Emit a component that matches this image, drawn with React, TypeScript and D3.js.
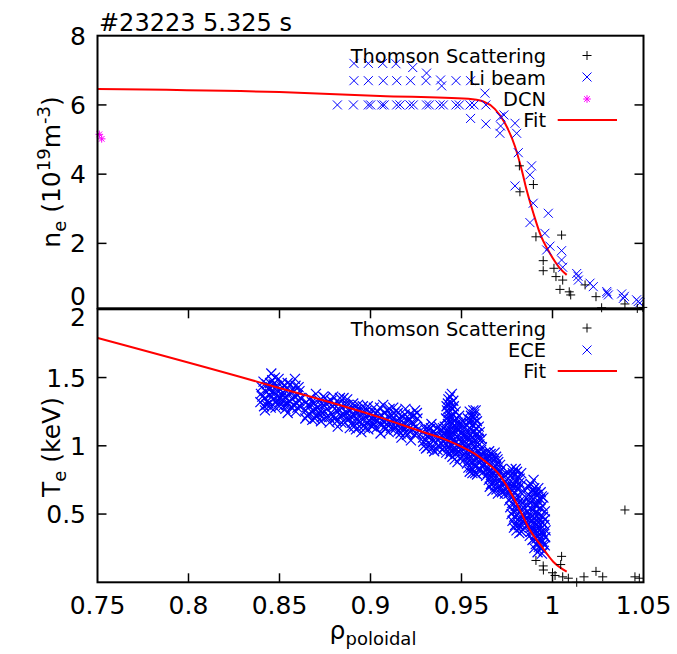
import React from 'react';
import * as d3 from 'd3';

const W = 677;
const H = 654;

const xTicks = [0.75, 0.8, 0.85, 0.9, 0.95, 1, 1.05];
const neTicks = [0, 2, 4, 6, 8];
const teTicks = [0.5, 1, 1.5, 2];

const title = '#23223 5.325 s';

// Top panel: electron density (1e19 m^-3)
const thomsonNe: [number, number][] = [
  [0.9818, 4.24], [0.9895, 3.70], [0.9821, 3.49], [0.9909, 2.19], [1.0050, 2.24],
  [0.9949, 1.50], [0.9949, 1.21], [1.0008, 1.28], [1.0019, 1.04], [1.0056, 0.94],
  [1.0041, 0.67], [1.0100, 0.51], [1.0092, 0.60], [1.0179, 0.80], [1.0239, 0.46],
  [1.0270, 0.14], [1.0398, 0.25], [1.0466, 0.12], [1.0496, 0.15],
];

const liBeamNe: [number, number][] = [
  [0.8909, 7.20], [0.8988, 7.20], [0.9067, 7.20], [0.9140, 7.19], [0.9232, 7.08], [0.9308, 6.92],
  [0.8909, 6.70], [0.8988, 6.70], [0.9070, 6.70], [0.9144, 6.70], [0.9220, 6.70], [0.9305, 6.70],
  [0.9385, 6.72], [0.9391, 6.55], [0.9470, 6.70], [0.9550, 6.70],
  [0.8818, 6.00], [0.8906, 6.00], [0.8988, 6.00], [0.9001, 6.00], [0.9062, 6.00], [0.9075, 6.00],
  [0.9144, 6.00], [0.9162, 6.00], [0.9217, 6.00], [0.9235, 6.00], [0.9308, 6.00], [0.9323, 6.00],
  [0.9382, 6.00], [0.9400, 6.00], [0.9470, 6.00], [0.9488, 6.00], [0.9547, 6.00], [0.9569, 6.00],
  [0.9634, 6.00],
  [0.9629, 6.34], [0.9550, 5.61], [0.9634, 5.45], [0.9715, 5.66], [0.9733, 5.71], [0.9715, 5.39],
  [0.9711, 5.18], [0.9803, 5.18], [0.9794, 5.47], [0.9812, 4.62], [0.9885, 4.24], [0.9876, 3.98],
  [0.9794, 3.66], [0.9894, 3.16], [0.9977, 2.87], [0.9876, 2.60], [0.9958, 2.29], [0.9986, 1.92],
  [0.9968, 1.81], [1.0050, 1.79], [1.0050, 1.52], [1.0056, 1.31], [1.0133, 1.13], [1.0142, 0.94],
  [1.0140, 1.05], [1.0206, 0.85], [1.0224, 0.75], [1.0298, 0.61], [1.0307, 0.51], [1.0300, 0.56],
  [1.0380, 0.54], [1.0389, 0.41], [1.0395, 0.47], [1.0462, 0.37], [1.0471, 0.32], [1.0480, 0.28],
];

const dcnNe: [number, number][] = [
  [0.7510, 5.15], [0.7523, 5.02],
];

const neFitRho = [0.75, 0.85, 0.9052, 0.9537, 0.962, 0.9684, 0.9739, 0.9794, 0.9831, 0.9858, 0.9895, 0.9931, 0.9986, 1.0041, 1.0078];
const neFitVal = [6.46, 6.37, 6.26, 6.18, 6.10, 5.88, 5.47, 4.80, 4.12, 3.54, 2.87, 2.29, 1.71, 1.28, 1.09];

// Bottom panel: electron temperature (keV)
const thomsonTe: [number, number][] = [
  [0.9909, 0.16], [0.9949, 0.12], [0.9950, 0.09], [1.0050, 0.19], [1.0045, 0.13],
  [1.0000, 0.07], [1.0014, 0.05], [1.0056, 0.04], [1.0087, 0.03], [1.0133, 0.00],
  [1.0173, 0.04], [1.0239, 0.08], [1.0276, 0.04], [1.0398, 0.53], [1.0453, 0.04], [1.0477, 0.03],
];

const eceTe: [number, number][] = [
  // 0.839 - 0.862
  [0.8395, 1.32], [0.8398, 1.38], [0.8402, 1.43], [0.8415, 1.29], [0.8420, 1.35], [0.8425, 1.40],
  [0.8430, 1.45], [0.8440, 1.31], [0.8445, 1.37], [0.8450, 1.42], [0.8455, 1.53], [0.8460, 1.48],
  [0.8465, 1.34], [0.8470, 1.39], [0.8478, 1.28], [0.8485, 1.44], [0.8490, 1.36], [0.8495, 1.49],
  [0.8500, 1.32], [0.8505, 1.41], [0.8512, 1.46], [0.8518, 1.37], [0.8525, 1.30], [0.8420, 1.26],
  [0.8405, 1.36], [0.8412, 1.47], [0.8435, 1.33], [0.8438, 1.42], [0.8452, 1.28], [0.8458, 1.39],
  [0.8468, 1.45], [0.8475, 1.50], [0.8482, 1.33], [0.8488, 1.40], [0.8498, 1.29], [0.8508, 1.35],
  [0.8515, 1.43], [0.8522, 1.39], [0.8448, 1.46], [0.8428, 1.30],
  [0.8532, 1.27], [0.8535, 1.35], [0.8540, 1.42], [0.8548, 1.31], [0.8552, 1.38], [0.8560, 1.45],
  [0.8565, 1.28], [0.8570, 1.34], [0.8578, 1.40], [0.8585, 1.49], [0.8590, 1.25], [0.8595, 1.31],
  [0.8600, 1.37], [0.8605, 1.43], [0.8612, 1.29], [0.8614, 1.35],
  [0.8538, 1.30], [0.8545, 1.46], [0.8555, 1.33], [0.8562, 1.40], [0.8575, 1.30], [0.8582, 1.36],
  [0.8588, 1.44], [0.8598, 1.28], [0.8608, 1.33], [0.8610, 1.40], [0.8545, 1.24],
  // 0.864 - 0.926
  [0.8642, 1.20], [0.8645, 1.26], [0.8648, 1.32], [0.8660, 1.23], [0.8665, 1.29], [0.8670, 1.35],
  [0.8680, 1.19], [0.8685, 1.26], [0.8690, 1.31], [0.8700, 1.38], [0.8705, 1.22], [0.8712, 1.28],
  [0.8720, 1.33], [0.8728, 1.18], [0.8735, 1.24], [0.8742, 1.30], [0.8750, 1.35], [0.8758, 1.21],
  [0.8762, 1.27],
  [0.8652, 1.22], [0.8655, 1.30], [0.8675, 1.25], [0.8678, 1.32], [0.8695, 1.20], [0.8698, 1.27],
  [0.8715, 1.24], [0.8725, 1.30], [0.8732, 1.21], [0.8740, 1.36], [0.8748, 1.25], [0.8755, 1.31],
  [0.8770, 1.32], [0.8775, 1.17], [0.8782, 1.24], [0.8790, 1.29], [0.8795, 1.36], [0.8805, 1.20],
  [0.8812, 1.26], [0.8820, 1.14], [0.8828, 1.31], [0.8835, 1.22], [0.8845, 1.28], [0.8852, 1.35],
  [0.8860, 1.17], [0.8868, 1.24], [0.8875, 1.30], [0.8882, 1.20], [0.8886, 1.13],
  [0.8772, 1.21], [0.8785, 1.33], [0.8798, 1.22], [0.8802, 1.30], [0.8815, 1.18], [0.8825, 1.27],
  [0.8832, 1.35], [0.8840, 1.17], [0.8848, 1.23], [0.8858, 1.30], [0.8865, 1.20], [0.8872, 1.34],
  [0.8880, 1.26],
  [0.8892, 1.26], [0.8898, 1.17], [0.8905, 1.31], [0.8912, 1.22], [0.8920, 1.12], [0.8928, 1.27],
  [0.8935, 1.18], [0.8942, 1.23], [0.8950, 1.10], [0.8958, 1.29], [0.8965, 1.15], [0.8972, 1.21],
  [0.8980, 1.26], [0.8988, 1.12], [0.8995, 1.18], [0.9002, 1.24], [0.9010, 1.14],
  [0.8895, 1.21], [0.8902, 1.28], [0.8910, 1.14], [0.8918, 1.25], [0.8925, 1.19], [0.8932, 1.30],
  [0.8940, 1.14], [0.8948, 1.26], [0.8955, 1.19], [0.8962, 1.24], [0.8970, 1.13], [0.8978, 1.17],
  [0.8985, 1.29], [0.8992, 1.22], [0.9000, 1.15], [0.9008, 1.20],
  [0.9018, 1.28], [0.9025, 1.20], [0.9032, 1.13], [0.9040, 1.25], [0.9048, 1.17], [0.9055, 1.09],
  [0.9062, 1.22], [0.9070, 1.30], [0.9078, 1.14], [0.9085, 1.19], [0.9092, 1.26], [0.9100, 1.10],
  [0.9108, 1.16], [0.9115, 1.22], [0.9125, 1.28], [0.9132, 1.12], [0.9140, 1.18],
  [0.9020, 1.16], [0.9028, 1.24], [0.9035, 1.18], [0.9045, 1.21], [0.9052, 1.28], [0.9060, 1.15],
  [0.9068, 1.18], [0.9075, 1.24], [0.9082, 1.12], [0.9090, 1.16], [0.9098, 1.22], [0.9105, 1.27],
  [0.9112, 1.13], [0.9120, 1.19], [0.9130, 1.24], [0.9138, 1.14], [0.9142, 1.26],
  [0.9150, 1.24], [0.9155, 1.11], [0.9162, 1.17], [0.9170, 1.06], [0.9178, 1.21], [0.9185, 1.13],
  [0.9192, 1.27], [0.9200, 1.08], [0.9208, 1.18], [0.9215, 1.23], [0.9222, 1.04], [0.9230, 1.12],
  [0.9238, 1.16], [0.9245, 1.26], [0.9252, 1.09], [0.9258, 1.20],
  [0.9148, 1.15], [0.9158, 1.20], [0.9165, 1.09], [0.9172, 1.14], [0.9180, 1.17], [0.9188, 1.23],
  [0.9195, 1.10], [0.9205, 1.14], [0.9212, 1.20], [0.9218, 1.10], [0.9225, 1.17], [0.9235, 1.22],
  [0.9242, 1.08], [0.9250, 1.14], [0.9255, 1.24], [0.9260, 1.12],
  // 0.928 - 0.942
  [0.9285, 1.10], [0.9290, 1.03], [0.9298, 1.14], [0.9305, 0.98], [0.9312, 1.07], [0.9320, 1.12],
  [0.9328, 1.01], [0.9335, 1.16], [0.9342, 1.05], [0.9350, 0.96], [0.9358, 1.09], [0.9365, 1.13],
  [0.9372, 1.00], [0.9380, 1.06], [0.9388, 1.11], [0.9395, 0.97], [0.9402, 1.03], [0.9410, 1.08],
  [0.9416, 0.95],
  [0.9288, 1.06], [0.9295, 1.00], [0.9302, 1.12], [0.9308, 1.04], [0.9315, 0.99], [0.9325, 1.08],
  [0.9332, 1.13], [0.9338, 0.98], [0.9345, 1.10], [0.9355, 1.02], [0.9362, 1.06], [0.9368, 0.97],
  [0.9375, 1.14], [0.9385, 1.02], [0.9392, 1.07], [0.9398, 1.13], [0.9405, 0.99], [0.9412, 1.05],
  [0.9418, 1.11],
  // spike near 0.945
  [0.9437, 1.36], [0.9442, 1.31], [0.9450, 1.27], [0.9430, 1.24], [0.9445, 1.21], [0.9460, 1.18],
  [0.9425, 1.16], [0.9438, 1.12], [0.9452, 1.14], [0.9468, 1.10], [0.9420, 1.08], [0.9433, 1.04],
  [0.9448, 1.06], [0.9462, 1.02], [0.9475, 1.07], [0.9428, 0.99], [0.9442, 0.96], [0.9458, 0.98],
  [0.9470, 0.94], [0.9485, 1.00], [0.9462, 0.90], [0.9478, 0.88], [0.9415, 1.20], [0.9455, 1.33],
  [0.9408, 1.14], [0.9412, 1.02], [0.9420, 1.26], [0.9425, 1.31], [0.9432, 1.19], [0.9440, 1.09],
  [0.9448, 1.17], [0.9455, 1.23], [0.9458, 1.04], [0.9465, 1.14], [0.9472, 1.20], [0.9480, 1.12],
  [0.9488, 1.05], [0.9492, 1.16], [0.9495, 0.97], [0.9500, 1.09], [0.9505, 1.02], [0.9510, 0.93],
  [0.9490, 0.91], [0.9450, 0.92], [0.9435, 0.94], [0.9444, 1.01],
  [0.9418, 1.29], [0.9428, 1.34], [0.9447, 1.38], [0.9458, 1.29], [0.9468, 1.25], [0.9478, 1.17],
  [0.9487, 1.22], [0.9497, 1.13], [0.9505, 1.18], [0.9512, 1.07], [0.9422, 1.12], [0.9430, 1.21],
  [0.9440, 1.28], [0.9452, 1.10], [0.9470, 1.03], [0.9483, 0.96], [0.9498, 1.03], [0.9436, 1.07],
  [0.9465, 0.96], [0.9478, 1.13],
  // 0.952 - 0.962
  [0.9565, 1.26], [0.9552, 1.22], [0.9575, 1.20], [0.9540, 1.17], [0.9560, 1.15], [0.9580, 1.13],
  [0.9530, 1.11], [0.9548, 1.08], [0.9568, 1.10], [0.9590, 1.06], [0.9520, 1.03], [0.9538, 1.00],
  [0.9558, 1.02], [0.9578, 0.98], [0.9598, 1.01], [0.9525, 0.95], [0.9545, 0.92], [0.9565, 0.94],
  [0.9585, 0.90], [0.9605, 0.93], [0.9530, 0.87], [0.9552, 0.84], [0.9572, 0.86], [0.9595, 0.82],
  [0.9615, 0.85], [0.9560, 0.80],
  [0.9545, 1.25], [0.9570, 1.23], [0.9535, 1.20], [0.9518, 1.14], [0.9528, 1.07], [0.9550, 1.12],
  [0.9572, 1.17], [0.9585, 1.09], [0.9595, 1.14], [0.9515, 0.98], [0.9535, 0.97], [0.9555, 0.97],
  [0.9575, 1.04], [0.9590, 0.96], [0.9608, 0.97], [0.9618, 0.90], [0.9540, 0.89], [0.9560, 0.88],
  [0.9580, 0.85], [0.9600, 0.88], [0.9620, 0.81], [0.9545, 0.81], [0.9585, 0.79], [0.9518, 0.90],
  [0.9548, 1.19], [0.9562, 1.21], [0.9578, 1.26], [0.9585, 1.18], [0.9600, 1.10], [0.9610, 1.05],
  [0.9522, 1.08], [0.9532, 1.15], [0.9542, 1.04], [0.9555, 1.06], [0.9568, 1.05], [0.9580, 1.01],
  [0.9595, 1.05], [0.9612, 0.99], [0.9528, 0.92], [0.9548, 0.96], [0.9568, 0.90], [0.9592, 0.92],
  [0.9610, 0.94], [0.9622, 0.87], [0.9538, 0.84], [0.9562, 0.83], [0.9575, 0.80], [0.9602, 0.83],
  // 0.963 - 0.975
  [0.9630, 0.95], [0.9645, 0.91], [0.9660, 0.94], [0.9675, 0.89], [0.9690, 0.92], [0.9628, 0.86],
  [0.9642, 0.83], [0.9658, 0.87], [0.9672, 0.81], [0.9688, 0.85], [0.9702, 0.88], [0.9635, 0.78],
  [0.9650, 0.75], [0.9665, 0.79], [0.9680, 0.73], [0.9695, 0.77], [0.9710, 0.81], [0.9725, 0.76],
  [0.9655, 0.70], [0.9670, 0.67], [0.9685, 0.71], [0.9700, 0.65], [0.9715, 0.69], [0.9730, 0.72],
  [0.9745, 0.68],
  [0.9638, 0.92], [0.9652, 0.96], [0.9668, 0.91], [0.9682, 0.95], [0.9698, 0.90], [0.9712, 0.86],
  [0.9640, 0.88], [0.9655, 0.82], [0.9678, 0.84], [0.9695, 0.82], [0.9720, 0.83], [0.9735, 0.79],
  [0.9645, 0.80], [0.9660, 0.77], [0.9675, 0.76], [0.9705, 0.74], [0.9718, 0.77], [0.9740, 0.74],
  [0.9750, 0.70], [0.9662, 0.72], [0.9692, 0.68], [0.9708, 0.71], [0.9722, 0.66], [0.9738, 0.65],
  // 0.976 - 0.986
  [0.9760, 0.80], [0.9775, 0.83], [0.9790, 0.78], [0.9805, 0.81], [0.9820, 0.76], [0.9765, 0.73],
  [0.9780, 0.70], [0.9795, 0.74], [0.9810, 0.68], [0.9825, 0.71], [0.9758, 0.65], [0.9772, 0.62],
  [0.9788, 0.66], [0.9802, 0.60], [0.9818, 0.63], [0.9832, 0.58], [0.9768, 0.55], [0.9784, 0.52],
  [0.9798, 0.56], [0.9812, 0.50], [0.9828, 0.53], [0.9842, 0.48], [0.9780, 0.45], [0.9795, 0.42],
  [0.9810, 0.46], [0.9825, 0.40], [0.9838, 0.44], [0.9818, 0.36],
  [0.9768, 0.78], [0.9782, 0.80], [0.9798, 0.83], [0.9812, 0.77], [0.9828, 0.80], [0.9772, 0.68],
  [0.9788, 0.72], [0.9802, 0.70], [0.9818, 0.73], [0.9835, 0.67], [0.9762, 0.60], [0.9778, 0.58],
  [0.9795, 0.62], [0.9808, 0.57], [0.9825, 0.60], [0.9840, 0.55], [0.9775, 0.50], [0.9790, 0.48],
  [0.9805, 0.53], [0.9820, 0.47], [0.9835, 0.50], [0.9848, 0.45], [0.9788, 0.40], [0.9802, 0.38],
  [0.9815, 0.42], [0.9830, 0.37], [0.9845, 0.40], [0.9855, 0.47], [0.9860, 0.42],
  // 0.986 - 0.996
  [0.9896, 0.75], [0.9941, 0.63], [0.9870, 0.70], [0.9885, 0.66], [0.9900, 0.69], [0.9915, 0.64],
  [0.9862, 0.61], [0.9878, 0.58], [0.9893, 0.61], [0.9908, 0.56], [0.9925, 0.59], [0.9860, 0.52],
  [0.9875, 0.49], [0.9890, 0.53], [0.9905, 0.47], [0.9920, 0.50], [0.9935, 0.54], [0.9948, 0.48],
  [0.9868, 0.43], [0.9882, 0.40], [0.9898, 0.44], [0.9912, 0.38], [0.9928, 0.41], [0.9942, 0.37],
  [0.9955, 0.42], [0.9875, 0.34], [0.9890, 0.31], [0.9905, 0.35], [0.9920, 0.29], [0.9935, 0.32],
  [0.9950, 0.28], [0.9960, 0.33], [0.9900, 0.25], [0.9918, 0.22], [0.9935, 0.25], [0.9952, 0.23],
  [0.9880, 0.72], [0.9892, 0.68], [0.9908, 0.66], [0.9922, 0.69], [0.9935, 0.66], [0.9950, 0.62],
  [0.9870, 0.64], [0.9885, 0.62], [0.9900, 0.58], [0.9918, 0.56], [0.9932, 0.61], [0.9945, 0.56],
  [0.9958, 0.52], [0.9865, 0.56], [0.9882, 0.54], [0.9898, 0.50], [0.9912, 0.52], [0.9928, 0.47],
  [0.9942, 0.44], [0.9958, 0.46], [0.9872, 0.46], [0.9888, 0.45], [0.9905, 0.41], [0.9920, 0.44],
  [0.9935, 0.39], [0.9950, 0.35], [0.9962, 0.38], [0.9880, 0.37], [0.9895, 0.38], [0.9912, 0.32],
  [0.9928, 0.35], [0.9945, 0.30], [0.9958, 0.27], [0.9908, 0.28], [0.9925, 0.26], [0.9942, 0.21],
];

const teFitRho = [0.75, 0.8411, 0.9052, 0.9272, 0.9419, 0.9501, 0.9584, 0.9638, 0.9702, 0.9757, 0.9821, 0.9876, 0.9941, 1.0004, 1.0078];
const teFitVal = [1.79, 1.457, 1.208, 1.108, 1.042, 0.993, 0.932, 0.878, 0.798, 0.688, 0.529, 0.383, 0.261, 0.151, 0.078];

const FONT = '"DejaVu Sans", sans-serif';
const BLUE = '#0000ff';
const MAGENTA = '#ff00ff';
const RED = '#ff0000';

const S = 4.5;
const plusPath = `M${-S},0H${S}M0,${-S}V${S}`;
const crossPath = `M${-S},${-S}L${S},${S}M${-S},${S}L${S},${-S}`;
const SE = 5;
const eceCross = `M${-SE},${-SE}L${SE},${SE}M${-SE},${SE}L${SE},${-SE}`;
const A = 3.8;
const starPath = `M${-A},0H${A}M0,${-A}V${A}M${-A * 0.75},${-A * 0.75}L${A * 0.75},${A * 0.75}M${-A * 0.75},${A * 0.75}L${A * 0.75},${-A * 0.75}`;

export default function App() {
  const L = 97.5, R = 643.5;
  const topT = 35.7, topB = 308.3, botT = 309.3, botB = 582.3;
  const x = d3.scaleLinear().domain([0.75, 1.05]).range([L, R]);
  const yN = d3.scaleLinear().domain([0, 8]).range([312.6, topT]);
  const yT = d3.scaleLinear().domain([0, 2]).range([botB, botT]);

  const neFit = d3.line<number>().x((_, i) => x(neFitRho[i])).y((d) => yN(d)).curve(d3.curveMonotoneX)(neFitVal) || '';
  const teFit = d3.line<number>().x((_, i) => x(teFitRho[i])).y((d) => yT(d)).curve(d3.curveMonotoneX)(teFitVal) || '';

  const tickLen = 9;
  const fsTick = 25;
  const fsLeg = 19.4;
  const legX = 546;
  const symX = 587;

  const neLabelOffset = (v: number) => (v === 0 ? -17 : 0);
  const teLabelOffset = (v: number) => (v === 2 ? 8 : 0);

  return (
    <svg width={W} height={H} style={{ position: 'absolute', left: 0, top: 0, background: '#fff' }} fontFamily={FONT}>
      <rect x={0} y={0} width={W} height={H} fill="#fff" />
      <text x={99} y={31} fontSize={24}>{title}</text>

      {/* Top panel data */}
      <path d={neFit} fill="none" stroke={RED} strokeWidth={2} />
      <g stroke={BLUE} strokeWidth={1} fill="none">
        {liBeamNe.map((d, i) => (
          <path key={i} d={crossPath} transform={`translate(${x(d[0])},${yN(d[1])})`} />
        ))}
      </g>
      <g stroke="#000" strokeWidth={1} fill="none">
        {thomsonNe.map((d, i) => (
          <path key={i} d={plusPath} transform={`translate(${x(d[0])},${yN(d[1])})`} />
        ))}
      </g>
      <g stroke={MAGENTA} strokeWidth={1} fill="none">
        {dcnNe.map((d, i) => (
          <path key={i} d={starPath} transform={`translate(${x(d[0])},${yN(d[1])})`} />
        ))}
      </g>

      {/* Top panel frame & ticks */}
      <rect x={L} y={topT} width={R - L} height={topB - topT} fill="none" stroke="#000" strokeWidth={2} />
      <g stroke="#000" strokeWidth={1.5}>
        {neTicks.filter((v) => v > 0 && v < 8).map((v) => (
          <g key={v}>
            <line x1={L} x2={L + tickLen} y1={yN(v)} y2={yN(v)} />
            <line x1={R} x2={R - tickLen} y1={yN(v)} y2={yN(v)} />
          </g>
        ))}
      </g>
      <g fontSize={fsTick} textAnchor="end">
        {neTicks.map((v) => (
          <text key={v} x={86} y={yN(v) + 9 + neLabelOffset(v)}>{String(v)}</text>
        ))}
      </g>

      {/* Top legend */}
      <g fontSize={fsLeg} textAnchor="end">
        <text x={legX} y={63.3}>Thomson Scattering</text>
        <text x={legX} y={84.5}>Li beam</text>
        <text x={legX} y={106}>DCN</text>
        <text x={legX} y={127.3}>Fit</text>
      </g>
      <path d={plusPath} transform={`translate(${symX},55.5)`} stroke="#000" strokeWidth={1} fill="none" />
      <path d={crossPath} transform={`translate(${symX},77)`} stroke={BLUE} strokeWidth={1} fill="none" />
      <path d={starPath} transform={`translate(${symX},99)`} stroke={MAGENTA} strokeWidth={1} fill="none" />
      <line x1={557.7} x2={617} y1={120} y2={120} stroke={RED} strokeWidth={2} />

      {/* Bottom panel data */}
      <g stroke={BLUE} strokeWidth={1.2} fill="none">
        {eceTe.map((d, i) => (
          <path key={i} d={eceCross} transform={`translate(${x(d[0])},${yT(d[1])})`} />
        ))}
      </g>
      <path d={teFit} fill="none" stroke={RED} strokeWidth={2} />
      <g stroke="#000" strokeWidth={1} fill="none">
        {thomsonTe.map((d, i) => (
          <path key={i} d={plusPath} transform={`translate(${x(d[0])},${yT(d[1])})`} />
        ))}
      </g>

      {/* Bottom panel frame & ticks */}
      <rect x={L} y={botT} width={R - L} height={botB - botT} fill="none" stroke="#000" strokeWidth={2} />
      <g stroke="#000" strokeWidth={1.5}>
        {teTicks.filter((v) => v < 2).map((v) => (
          <g key={v}>
            <line x1={L} x2={L + tickLen} y1={yT(v)} y2={yT(v)} />
            <line x1={R} x2={R - tickLen} y1={yT(v)} y2={yT(v)} />
          </g>
        ))}
        {xTicks.filter((v) => v > 0.75 && v < 1.05).map((v) => (
          <g key={v}>
            <line x1={x(v)} x2={x(v)} y1={botB} y2={botB - tickLen} />
            <line x1={x(v)} x2={x(v)} y1={botT} y2={botT + tickLen} />
          </g>
        ))}
      </g>
      <g fontSize={fsTick} textAnchor="end">
        {teTicks.map((v) => (
          <text key={v} x={86} y={yT(v) + 9 + teLabelOffset(v)}>{String(v)}</text>
        ))}
      </g>
      <g fontSize={fsTick} textAnchor="middle">
        {xTicks.map((v) => (
          <text key={v} x={x(v)} y={614}>{String(v)}</text>
        ))}
      </g>

      {/* Bottom legend */}
      <g fontSize={fsLeg} textAnchor="end">
        <text x={legX} y={336}>Thomson Scattering</text>
        <text x={legX} y={357.3}>ECE</text>
        <text x={legX} y={378.3}>Fit</text>
      </g>
      <path d={plusPath} transform={`translate(${symX},328)`} stroke="#000" strokeWidth={1} fill="none" />
      <path d={crossPath} transform={`translate(${symX},350)`} stroke={BLUE} strokeWidth={1} fill="none" />
      <line x1={557.7} x2={617} y1={371} y2={371} stroke={RED} strokeWidth={2} />

      {/* Axis labels */}
      <text transform="translate(60,172) rotate(-90)" fontSize={25} textAnchor="middle">
        n<tspan dy={6} fontSize={18}>e</tspan>
        <tspan dy={-6}> (10</tspan>
        <tspan dy={-10} fontSize={18}>19</tspan>
        <tspan dy={10}>m</tspan>
        <tspan dy={-10} fontSize={18}>-3</tspan>
        <tspan dy={10}>)</tspan>
      </text>
      <text transform="translate(60,447) rotate(-90)" fontSize={25} textAnchor="middle">
        T<tspan dy={6} fontSize={18}>e</tspan>
        <tspan dy={-6}> (keV)</tspan>
      </text>
      <text x={373} y={639} fontSize={25} textAnchor="middle">
        ρ<tspan dy={6} fontSize={18}>poloidal</tspan>
      </text>
    </svg>
  );
}
